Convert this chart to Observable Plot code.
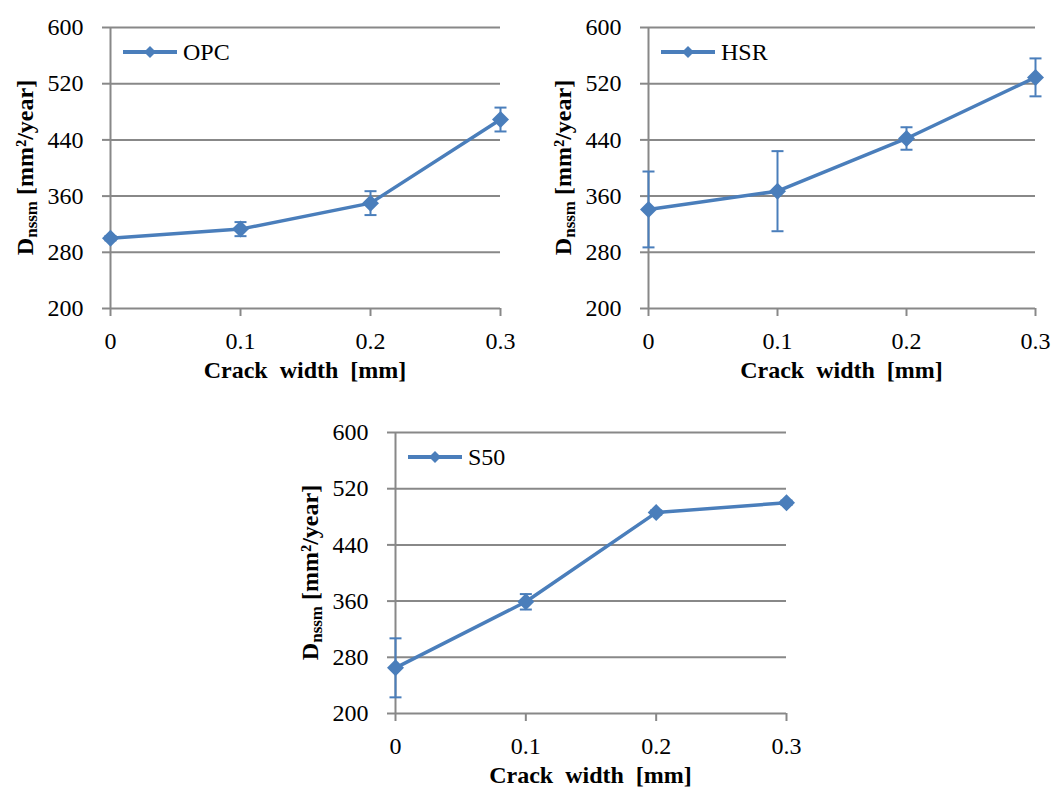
<!DOCTYPE html>
<html>
<head>
<meta charset="utf-8">
<script src="https://cdn.jsdelivr.net/npm/d3@7"></script>
<script src="https://cdn.jsdelivr.net/npm/@observablehq/plot@0.6"></script>
<style>
  html, body { margin: 0; padding: 0; background: #fff; }
  #wrap { position: relative; width: 1058px; height: 790px; overflow: hidden; font-family: "Liberation Serif", serif; }
  #wrap svg { position: absolute; overflow: visible; }
  #wrap svg, #wrap svg text, #wrap svg tspan { font-family: "Liberation Serif", "Times New Roman", serif !important; }
</style>
</head>
<body>
<div id="wrap"></div>
<script>
// ---- data ----
const crackWidth = [0, 0.1, 0.2, 0.3];
const xTicks = [0, 0.1, 0.2, 0.3];
const yTicks = [200, 280, 360, 440, 520, 600];

const opcMean = [300, 313, 350, 469];
const opcErr  = [3, 10, 17, 17];
const hsrMean = [341, 367, 442, 529];
const hsrErr  = [54, 57, 16, 27];
const s50Mean = [265, 359, 486, 500];
const s50Err  = [42, 11, 3, 3];

const seriesNames = ["OPC", "HSR", "S50"];

// ---- styling / layout ----
const BLUE = "#4A7EBB";
const GRID = "#888888";
const FONT = "Liberation Serif";

const panels = [
  {name: seriesNames[0], mean: opcMean, err: opcErr, left: 0,   top: 0,   width: 529, height: 395, mL: 110, mR: 29, mT: 27, mB: 87},
  {name: seriesNames[1], mean: hsrMean, err: hsrErr, left: 529, top: 0,   width: 529, height: 395, mL: 119, mR: 23, mT: 27, mB: 87},
  {name: seriesNames[2], mean: s50Mean, err: s50Err, left: 280, top: 410, width: 529, height: 380, mL: 115, mR: 23, mT: 22, mB: 77}
];

const diamond = r => ({
  draw(ctx) {
    ctx.moveTo(0, -r); ctx.lineTo(r, 0); ctx.lineTo(0, r); ctx.lineTo(-r, 0); ctx.closePath();
  }
});
const cap = w => ({
  draw(ctx) { ctx.moveTo(-w, 0); ctx.lineTo(w, 0); }
});

const wrap = document.getElementById("wrap");

for (const p of panels) {
  const data = crackWidth.map((x, i) => ({x, y: p.mean[i], e: p.err[i]}));
  const chart = Plot.plot({
    width: p.width,
    height: p.height,
    marginLeft: p.mL, marginRight: p.mR, marginTop: p.mT, marginBottom: p.mB,
    style: {fontFamily: FONT, color: "#000", background: "transparent", overflow: "visible"},
    x: {domain: [0, 0.3], axis: null},
    y: {domain: [200, 600], axis: null},
    marks: [
      Plot.ruleY(yTicks, {stroke: GRID, strokeWidth: 2}),
      Plot.axisY({ticks: yTicks, label: null, tickSize: 8, tickPadding: 19, fontSize: 24, stroke: GRID, strokeWidth: 2, fill: "#000", tickFormat: d => String(d)}),
      Plot.ruleX([0], {y1: 200, y2: 600, stroke: GRID, strokeWidth: 2}),
      Plot.axisX({ticks: xTicks, label: null, tickSize: 8, tickPadding: 15, fontSize: 24, stroke: GRID, strokeWidth: 2, fill: "#000", tickFormat: d => String(d)}),
      Plot.ruleX(data, {x: "x", y1: d => d.y - d.e, y2: d => d.y + d.e, stroke: BLUE, strokeWidth: 2}),
      Plot.dot(data, {x: "x", y: d => d.y + d.e, symbol: cap(6), r: 1, stroke: BLUE, strokeWidth: 2, fill: "none"}),
      Plot.dot(data, {x: "x", y: d => d.y - d.e, symbol: cap(6), r: 1, stroke: BLUE, strokeWidth: 2, fill: "none"}),
      Plot.line(data, {x: "x", y: "y", stroke: BLUE, strokeWidth: 3.5}),
      Plot.dot(data, {x: "x", y: "y", symbol: diamond(8.5), r: 1, fill: BLUE, stroke: "none"})
    ]
  });
  chart.style.left = p.left + "px";
  chart.style.top = p.top + "px";
  wrap.appendChild(chart);

  const svg = d3.select(chart);
  const plotBottom = p.height - p.mB;
  const plotCenterX = (p.mL + (p.width - p.mR)) / 2;
  const plotCenterY = (p.mT + plotBottom) / 2;

  // x-axis title
  svg.append("text")
    .attr("x", plotCenterX).attr("y", plotBottom + 70)
    .attr("text-anchor", "middle")
    .attr("font-size", 24).attr("font-weight", "bold")
    .attr("fill", "#000")
    .text("Crack\u00a0 width\u00a0 [mm]");

  // y-axis title with subscript
  const yt = svg.append("text")
    .attr("transform", `translate(${p.mL - 77},${plotCenterY}) rotate(-90)`)
    .attr("text-anchor", "middle")
    .attr("font-size", 24).attr("font-weight", "bold")
    .attr("fill", "#000");
  yt.append("tspan").text("D");
  yt.append("tspan").attr("font-size", 17).attr("dy", 4).text("nssm");
  yt.append("tspan").attr("dy", -4).text(" [mm\u00b2/year]");

  // legend
  const lg = svg.append("g").attr("transform", `translate(${p.mL + 13},${p.mT + 25})`);
  lg.append("line").attr("x1", 0).attr("x2", 54).attr("y1", 0).attr("y2", 0)
    .attr("stroke", BLUE).attr("stroke-width", 4);
  lg.append("path").attr("d", "M27,-6L33,0L27,6L21,0Z").attr("fill", BLUE);
  lg.append("text").attr("x", 60).attr("y", 8)
    .attr("text-anchor", "start")
    .attr("font-size", 24).attr("fill", "#000")
    .text(p.name);
}
</script>
</body>
</html>
